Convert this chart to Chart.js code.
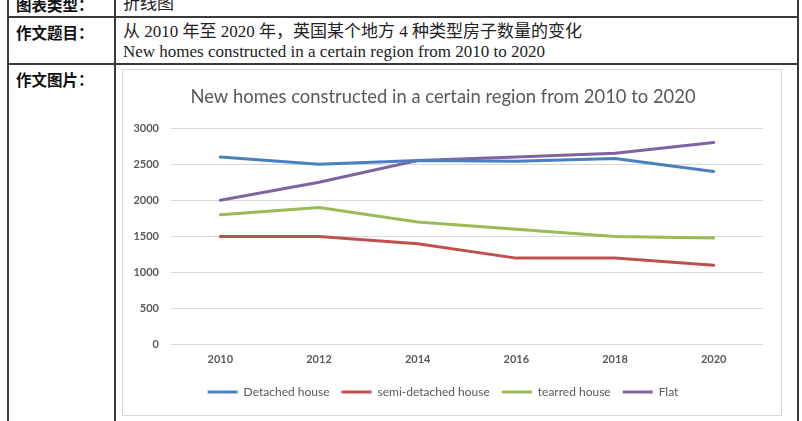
<!DOCTYPE html>
<html><head><meta charset="utf-8">
<script src="https://cdn.jsdelivr.net/npm/chart.js@4"></script>
<style>
html,body{margin:0;padding:0;background:#fff;width:802px;height:421px;overflow:hidden;position:relative;}
.ln{position:absolute;background:#3a3a3a;}
.t{position:absolute;white-space:nowrap;color:#222;font-size:17px;line-height:20px;}
.lab{font-family:"Noto Sans CJK SC";font-weight:bold;color:#111;font-size:15.5px;}
.cn{font-family:"Liberation Serif","Noto Sans CJK SC";}
.en{font-family:"Liberation Serif";}
#box{position:absolute;left:122px;top:69px;width:660px;height:347px;border:1px solid #d9d9d9;box-sizing:border-box;}
#wrap{position:absolute;left:123px;top:70px;width:658px;height:345px;}
</style></head><body>
<div class="ln" style="left:7px;top:0;width:2px;height:421px"></div>
<div class="ln" style="left:114px;top:0;width:2px;height:421px"></div>
<div class="ln" style="left:797px;top:0;width:2px;height:421px"></div>
<div class="ln" style="left:7px;top:16px;width:792px;height:2px"></div>
<div class="ln" style="left:7px;top:63px;width:792px;height:2px"></div>
<div class="t lab" style="left:16px;top:-6px">图表类型：</div>
<div class="t cn" style="left:123px;top:-6px">折线图</div>
<div class="t lab" style="left:16px;top:22px">作文题目：</div>
<div class="t cn" style="left:123px;top:22px">从 2010 年至 2020 年，英国某个地方 4 种类型房子数量的变化</div>
<div class="t en" style="left:123px;top:42px">New homes constructed in a certain region from 2010 to 2020</div>
<div class="t lab" style="left:16px;top:69px">作文图片：</div>
<div id="box"></div>
<div id="wrap"><canvas id="c"></canvas></div>
<script>
const years = ['2010','2012','2014','2016','2018','2020'];
const detached = [2600, 2500, 2550, 2540, 2580, 2400];
const semiDetached = [1500, 1500, 1400, 1200, 1200, 1100];
const tearred = [1800, 1900, 1700, 1600, 1500, 1480];
const flat = [2000, 2250, 2550, 2600, 2650, 2800];
const seriesNames = ['Detached house','semi-detached house','tearred house','Flat'];
const colors = ['#4a7fc0','#c0504d','#9bbb59','#8064a2'];
const yTicks = [0, 500, 1000, 1500, 2000, 2500, 3000];
const title = 'New homes constructed in a certain region from 2010 to 2020';

const mk = (i, d) => ({label: seriesNames[i], data: d, borderColor: colors[i], backgroundColor: colors[i],
  borderWidth: 3, pointRadius: 0, tension: 0, borderCapStyle: 'round', borderJoinStyle: 'round', fill: false});

new Chart(document.getElementById('c'), {
  type: 'line',
  data: {labels: years, datasets: [mk(0, detached), mk(1, semiDetached), mk(2, tearred), mk(3, flat)]},
  options: {
    responsive: true, maintainAspectRatio: false, animation: false,
    layout: {padding: {left: 0, right: 18, top: 0, bottom: 7}},
    plugins: {
      title: {display: true, text: title, color: '#595959', font: {family: 'Lato', size: 18.4, weight: 'normal'}, padding: {top: 16, bottom: 20}},
      legend: {position: 'bottom', labels: {usePointStyle: true, pointStyle: 'line', pointStyleWidth: 30, boxHeight: 10,
        color: '#595959', font: {family: 'Lato', size: 12}, padding: 12}},
      tooltip: {enabled: false}
    },
    scales: {
      x: {offset: true, grid: {display: false, drawTicks: false}, border: {display: false},
        ticks: {color: '#595959', font: {family: 'Lato', size: 11, weight: 'bold'}, padding: 8}},
      y: {min: 0, max: 3000, grid: {color: '#d9d9d9', drawTicks: false}, border: {display: false},
        afterBuildTicks: s => { s.ticks = yTicks.map(v => ({value: v})); },
        afterFit: s => { s.width = 48; },
        ticks: {color: '#595959', font: {family: 'Lato', size: 11, weight: 'bold'}, padding: 12,
          callback: v => String(v)}}
    }
  }
});
</script>
</body></html>
